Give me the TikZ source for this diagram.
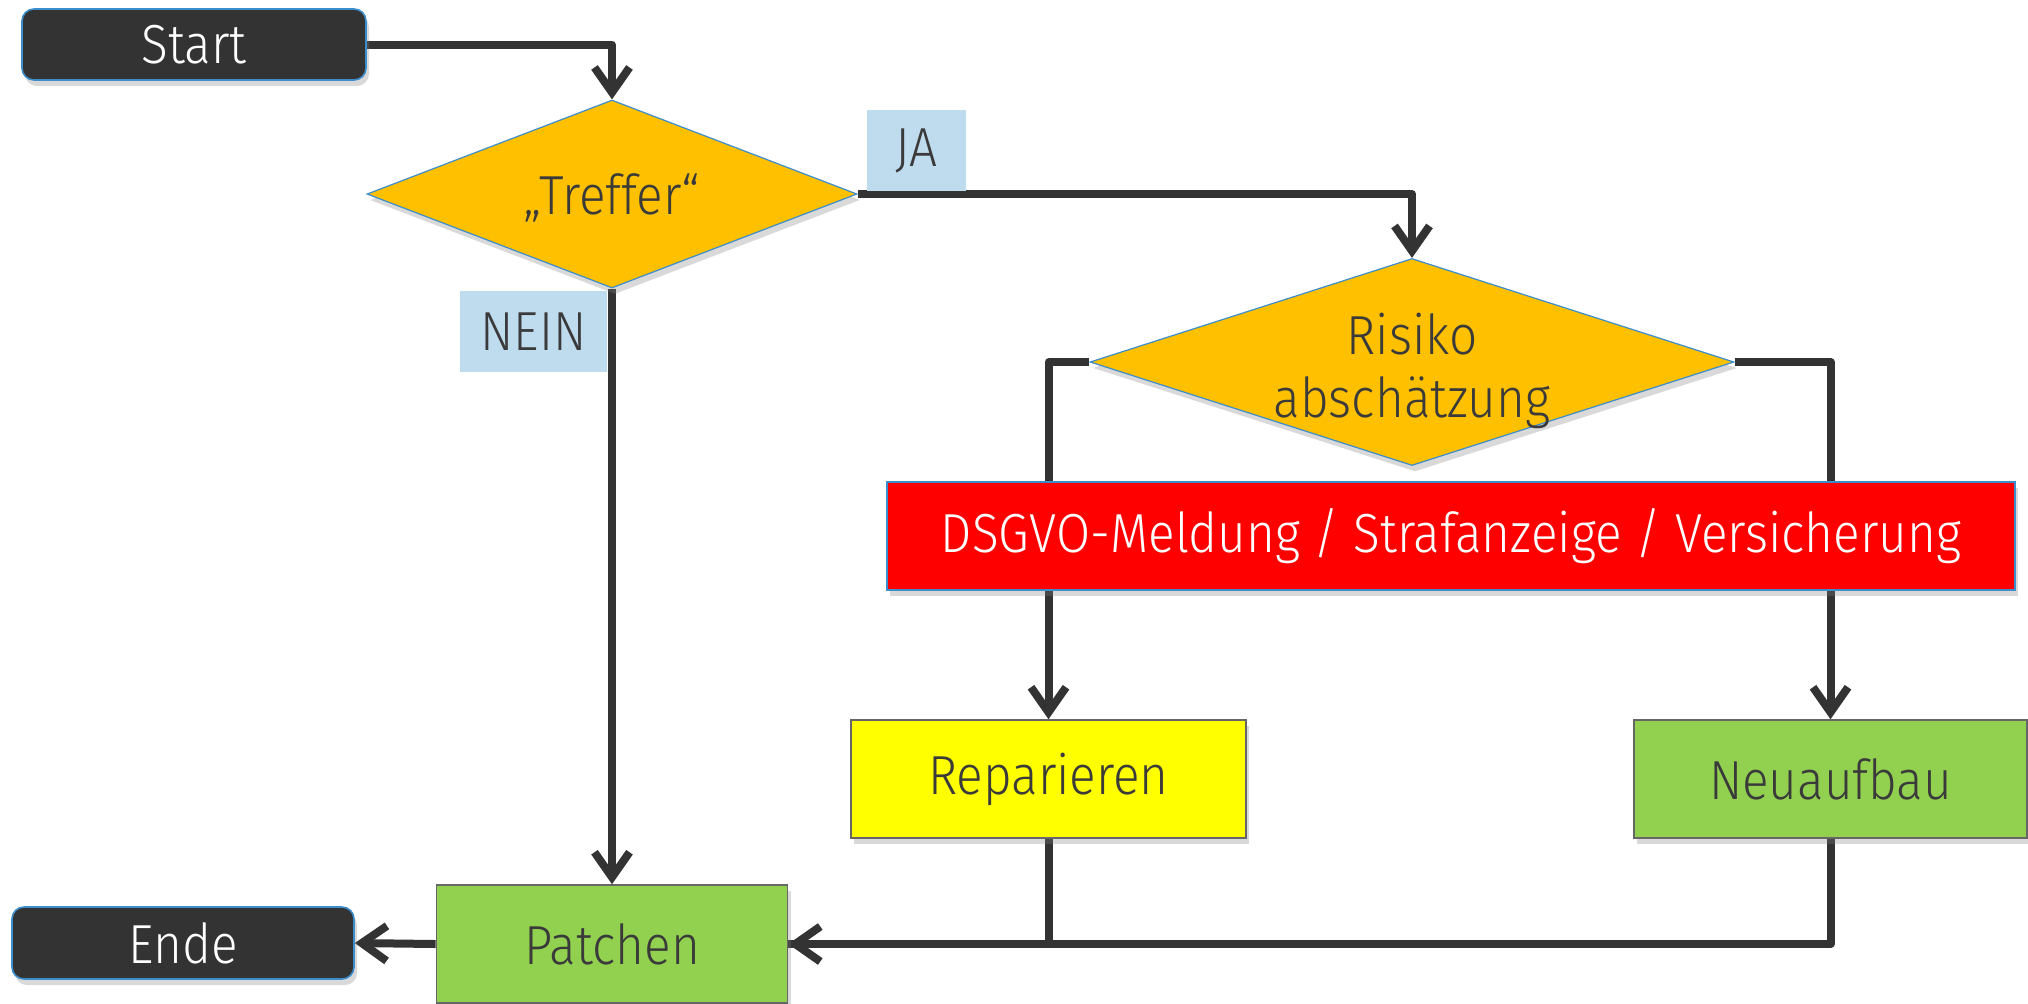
\documentclass[tikz,border=0pt]{standalone}
\usepackage{fontspec}
\setmainfont{Fira Sans}[UprightFont={* Light}, FakeStretch=0.9]
\usetikzlibrary{shapes.geometric,arrows.meta,shadows}
\definecolor{linec}{HTML}{333333}
\definecolor{darkf}{HTML}{333333}
\definecolor{bordb}{HTML}{3C8DCB}
\definecolor{gold}{HTML}{FFC000}
\definecolor{redf}{HTML}{FF0000}
\definecolor{yelf}{HTML}{FFFF00}
\definecolor{grnf}{HTML}{92D050}
\definecolor{labb}{HTML}{BFDBEE}
\definecolor{grayb}{HTML}{666666}
\definecolor{txt}{HTML}{3A3A3A}
\pgfdeclarelayer{background}
\pgfsetlayers{background,main}
\begin{document}
\begin{tikzpicture}[x=0.5pt,y=-0.5pt,
  conn/.style={draw=linec, line width=4pt, line join=round},
  arr/.style={conn, -{Straight Barb[length=12.5pt,width=17.5pt]}},
  shd/.style={drop shadow={opacity=0.3, shadow xshift=1.5pt, shadow yshift=-3pt}},
  term/.style={rectangle, draw=bordb, line width=0.8pt, fill=darkf, rounded corners=6pt, text=white, minimum width=172pt, minimum height=35.5pt, inner sep=0pt, shd},
  dec/.style={diamond, draw=bordb, line width=0.6pt, fill=gold, inner sep=0pt, shd},
  dectext/.style={text=txt, align=center, inner sep=0pt},
  box/.style={rectangle, draw=grayb, line width=0.8pt, text=txt, inner sep=0pt, shd},
  lab/.style={rectangle, fill=labb, text=txt, inner sep=0pt},
  font=\fontsize{27.5}{31.5}\selectfont]
\useasboundingbox (0,0) rectangle (2028,1003);

\node[term] (start) at (194,44.5) {Start};
\node[term, minimum width=171pt, minimum height=36pt] (ende) at (183,943) {Ende};
\node[dec, shape aspect=2.606, minimum width=245pt, minimum height=94pt,
      label={[dectext, yshift=-2pt]center:„Treffer“}] (treffer) at (612,194) {};
\node[dec, shape aspect=3.11, minimum width=322pt, minimum height=103.5pt,
      label={[dectext, yshift=-4.5pt]center:Risiko\\abschätzung}] (risiko) at (1412,362) {};
\node[rectangle, draw=bordb, line width=0.8pt, fill=redf, text=white, minimum width=564pt, minimum height=54pt, inner sep=0pt, shd] (dsgvo) at (1451,536) {DSGVO-Meldung / Strafanzeige / Versicherung};
\node[box, fill=yelf, minimum width=197.5pt, minimum height=59pt] (rep) at (1048.5,779) {Reparieren};
\node[box, fill=grnf, minimum width=196.5pt, minimum height=59pt] (neu) at (1830.5,779) {Neuaufbau};
\node[box, fill=grnf, minimum width=175.5pt, minimum height=59pt] (patch) at (612,944) {Patchen};
\node[lab, minimum width=49.5pt, minimum height=40.5pt] (ja) at (916.5,150.5) {JA};
\node[lab, minimum width=73.5pt, minimum height=40.5pt] (nein) at (533.5,331.5) {NEIN};

\begin{pgfonlayer}{background}
\draw[arr] (start.east) -| (treffer.north);
\draw[arr] (treffer.east) -| (risiko.north);
\draw[arr] (treffer.south) -- (treffer.south |- patch.north);
\draw[arr] (risiko.west) -| (rep.north);
\draw[arr] (risiko.east) -| (neu.north);
\draw[conn] (rep.south) |- (patch.east);
\draw[arr] (neu.south) |- (patch.east);
\draw[arr] (patch.west) -- (ende.east);
\end{pgfonlayer}
\end{tikzpicture}
\end{document}
